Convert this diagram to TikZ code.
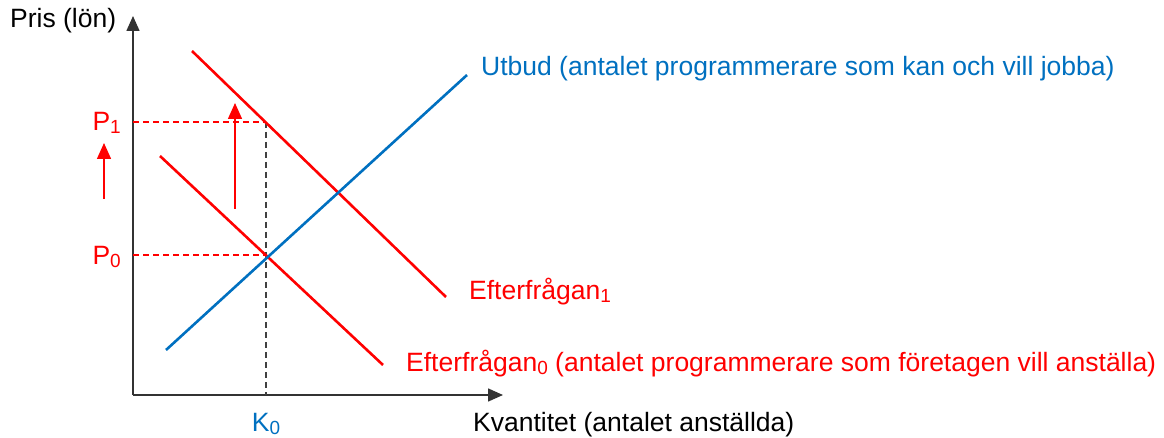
\documentclass[tikz,border=0pt]{standalone}
\usepackage{fontspec}
\setmainfont{Liberation Sans}
\usetikzlibrary{arrows.meta}
\definecolor{myred}{RGB}{255,0,0}
\definecolor{myblue}{RGB}{0,112,192}
\newcommand\sbs[1]{\raisebox{-3pt}{\fontsize{19}{19}\selectfont #1}}
\begin{document}
\begin{tikzpicture}[x=1pt,y=-1pt,
  lbl/.style={inner sep=0pt,font=\fontsize{26.5}{30}\selectfont},
  axis/.style={line width=1.6pt,black!80,-{Triangle[width=13pt,length=15pt]}},
  demand/.style={line width=2.6pt,myred},
  supply/.style={line width=2.6pt,myblue},
  guide/.style={line width=1.2pt,dashed,dash pattern=on 6pt off 4pt},
  shiftarrow/.style={line width=1.5pt,myred,-{Triangle[width=14pt,length=16pt]}}]
\useasboundingbox (0,0) rectangle (1164,438);
% axes
\coordinate (O) at (133,395);
\coordinate (Ytop) at (133,16);
\coordinate (Xend) at (503,395);
\draw[axis] (O) -- (Ytop);
\draw[axis] (O) -- (Xend);
\node[lbl,anchor=base west] (ylab) at (10,28) {Pris (lön)};
\node[lbl,anchor=base west] (xlab) at (473,431) {Kvantitet (antalet anställda)};
% curves
\coordinate (S1) at (166,350); \coordinate (S2) at (467,75);
\coordinate (D1a) at (192,51); \coordinate (D1b) at (446,297);
\coordinate (D0a) at (160,156); \coordinate (D0b) at (383,365);
\coordinate (E0) at (266,255); \coordinate (E1) at (266,122);
\coordinate (P0ax) at (133,255); \coordinate (P1ax) at (133,122);
\coordinate (K0ax) at (266,395);
\draw[guide,myred] (P1ax) -- (E1);
\draw[guide,myred] (P0ax) -- (E0);
\draw[guide,black!75] (E1) -- (K0ax);
\draw[demand] (D1a) -- (D1b);
\draw[demand] (D0a) -- (D0b);
\draw[supply] (S1) -- (S2);
% shift arrows
\coordinate (A1s) at (235,209); \coordinate (A1e) at (235,103);
\coordinate (A2s) at (104,199); \coordinate (A2e) at (104,143);
\draw[shiftarrow] (A1s) -- (A1e);
\draw[shiftarrow] (A2s) -- (A2e);
% labels
\node[lbl,text=myred,anchor=base east] (p1) at (121,131) {P\sbs{1}};
\node[lbl,text=myred,anchor=base east] (p0) at (121,265) {P\sbs{0}};
\node[lbl,text=myblue,anchor=base] (k0) at (266,431) {K\sbs{0}};
\node[lbl,text=myblue,anchor=base west] (ut) at (481,76) {Utbud (antalet programmerare som kan och vill jobba)};
\node[lbl,text=myred,anchor=base west] (ef1) at (469,299) {Efterfrågan\sbs{1}};
\node[lbl,text=myred,anchor=base west] (ef0) at (406,371) {Efterfrågan\sbs{0} (antalet programmerare som företagen vill anställa)};
\end{tikzpicture}
\end{document}
